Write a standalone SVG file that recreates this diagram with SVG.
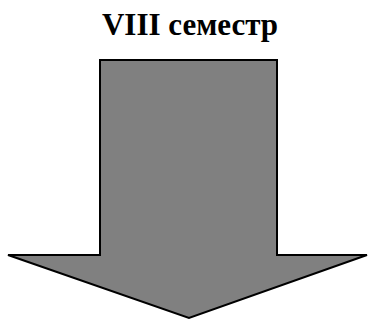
<svg xmlns="http://www.w3.org/2000/svg" width="369" height="320" viewBox="0 0 369 320">
<style>
.t{font-family:"Liberation Serif","Times New Roman",serif;font-weight:bold;font-size:31px;fill:#000}
.arrow{fill:#808080;stroke:#000;stroke-width:2;stroke-linejoin:miter}
</style>
<rect width="369" height="320" fill="#fff"/>
<g id="title"><text class="t" x="190" y="35" text-anchor="middle">VIII семестр</text></g>
<g id="arrow"><polygon class="arrow" points="100,60 277,60 277,255 367,255 189,318 8,255 100,255"/></g>
</svg>
